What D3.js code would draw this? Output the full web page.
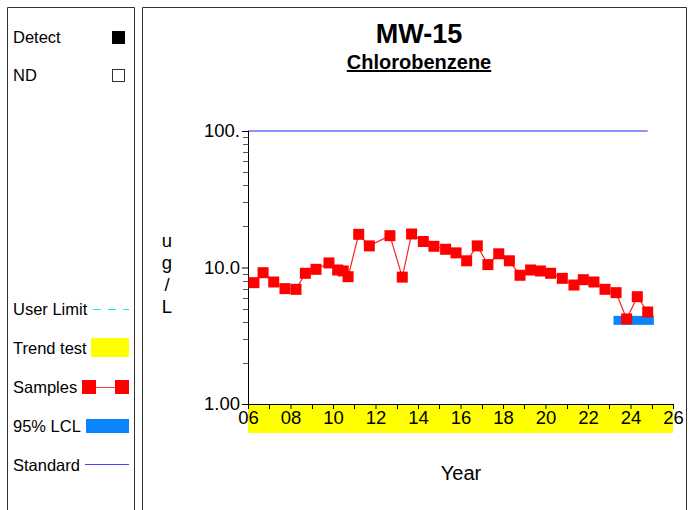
<!DOCTYPE html>
<html>
<head>
<meta charset="utf-8">
<script src="https://cdn.jsdelivr.net/npm/d3@7"></script>
<style>
  html, body { margin: 0; padding: 0; background: #fff; }
  svg { display: block; font-family: "Liberation Sans", Arial, sans-serif; }
</style>
</head>
<body>
<svg id="chart" width="691" height="510"></svg>
<script>
// Sample dates (decimal years) and Chlorobenzene results (ug/L) at MW-15
const sampleYears = [
  2006.28, 2006.71, 2007.21, 2007.74, 2008.26, 2008.70, 2009.20, 2009.81,
  2010.22, 2010.48, 2010.71, 2011.21, 2011.71, 2012.68, 2013.26, 2013.70,
  2014.25, 2014.75, 2015.30, 2015.79, 2016.29, 2016.79, 2017.29, 2017.80,
  2018.30, 2018.80, 2019.30, 2019.76, 2020.24, 2020.79, 2021.34, 2021.78,
  2022.28, 2022.80, 2023.32, 2023.82, 2024.32, 2024.81
];
const sampleValues = [
  7.74, 9.16, 7.83, 7.0, 6.92, 9.07, 9.7, 10.8,
  9.59, 9.43, 8.56, 17.5, 14.4, 17.1, 8.5, 17.6,
  15.5, 14.3, 13.6, 12.8, 11.2, 14.4, 10.5, 12.6,
  11.2, 8.77, 9.59, 9.43, 9.07, 8.33, 7.44, 8.14,
  7.83, 6.92, 6.54, 4.2, 6.11, 4.72
];
// Regulatory standard (ug/L), drawn across the sampling period
const standardValue = 100;
const standardRange = [2006, 2024.81];
// 95% lower confidence limit over the trend window
const lclValue = 4.1;
const lclRange = [2023.2, 2025.1];
// Trend test window (whole axis span)
const trendRange = [2006, 2026];
// Axis ticks
const xTickYears = [2006, 2008, 2010, 2012, 2014, 2016, 2018, 2020, 2022, 2024, 2026];
const yTickValues = [1, 10, 100];
const yTickLabels = ["1.00", "10.0", "100."];

const svg = d3.select("#chart");

// Panel frames
svg.append("path").attr("d", "M7.5,515 V7.5 H134.5 V515")
  .attr("fill", "none").attr("stroke", "#333").attr("stroke-width", 1);
svg.append("path").attr("d", "M142.5,515 V7.5 H686.5 V515")
  .attr("fill", "none").attr("stroke", "#333").attr("stroke-width", 1);

// Scales
const x = d3.scaleLinear().domain([2006, 2026]).range([248, 673]);
const y = d3.scaleLog().domain([1, 100]).range([404, 131]);

// Titles
svg.append("text").attr("x", 419).attr("y", 43).attr("text-anchor", "middle")
  .attr("font-size", 27).attr("font-weight", "bold").text("MW-15");
svg.append("text").attr("x", 419).attr("y", 69).attr("text-anchor", "middle")
  .attr("font-size", 20).attr("font-weight", "bold")
  .attr("text-decoration", "underline").text("Chlorobenzene");

// Trend test band below the axis
svg.append("rect")
  .attr("x", x(trendRange[0])).attr("y", 404)
  .attr("width", x(trendRange[1]) - x(trendRange[0])).attr("height", 29)
  .attr("fill", "#ffff00");

// Standard line
svg.append("line")
  .attr("x1", x(standardRange[0])).attr("x2", x(standardRange[1]))
  .attr("y1", y(standardValue)).attr("y2", y(standardValue))
  .attr("stroke", "#6b6bff").attr("stroke-width", 1.5);

// LCL bar
svg.append("rect")
  .attr("x", x(lclRange[0])).attr("y", y(lclValue) - 4.5)
  .attr("width", x(lclRange[1]) - x(lclRange[0])).attr("height", 9)
  .attr("fill", "#0a84ff");

// Y axis
const yAxis = d3.axisLeft(y)
  .tickValues(yTickValues)
  .tickFormat((d, i) => yTickLabels[i])
  .tickSize(6).tickPadding(2);
const gy = svg.append("g").attr("transform", "translate(248,0)").call(yAxis);
gy.select(".domain").attr("stroke", "#000").attr("d", "M0.5,131V404.5");
gy.selectAll(".tick line").attr("stroke", "#000");
gy.selectAll(".tick text").attr("font-size", 18.5).attr("fill", "#000")
  .attr("font-family", "Liberation Sans, Arial, sans-serif").attr("dy", "0.3em");

// Minor log ticks
const minorY = [];
[1, 10].forEach(dec => { for (let k = 2; k <= 9; k++) minorY.push(dec * k); });
svg.append("g").selectAll("line").data(minorY).join("line")
  .attr("x1", 243).attr("x2", 248.5)
  .attr("y1", d => Math.round(y(d)) + 0.5).attr("y2", d => Math.round(y(d)) + 0.5)
  .attr("stroke", "#555").attr("stroke-width", 1);

// X axis
const xAxis = d3.axisBottom(x)
  .tickValues(xTickYears)
  .tickFormat(d => String(d % 100).padStart(2, "0"))
  .tickSize(5).tickPadding(2);
const gx = svg.append("g").attr("transform", "translate(0,404)").call(xAxis);
gx.select(".domain").attr("stroke", "#000").attr("d", "M248,0.5H673");
gx.selectAll(".tick line").attr("stroke", "#000");
gx.selectAll(".tick text").attr("font-size", 18.5).attr("fill", "#000")
  .attr("font-family", "Liberation Sans, Arial, sans-serif");
const minorX = d3.range(2007, 2026, 2);
svg.append("g").selectAll("line").data(minorX).join("line")
  .attr("x1", d => Math.round(x(d)) + 0.5).attr("x2", d => Math.round(x(d)) + 0.5)
  .attr("y1", 404).attr("y2", 409)
  .attr("stroke", "#000");

// Axis labels
const unitLetters = ["u", "g", "/", "L"];
svg.append("g").selectAll("text").data(unitLetters).join("text")
  .attr("x", 167).attr("y", (d, i) => 247 + i * 22)
  .attr("text-anchor", "middle").attr("font-size", 18.5).text(d => d);
svg.append("text").attr("x", 461).attr("y", 480).attr("text-anchor", "middle")
  .attr("font-size", 20).text("Year");

// Samples
const samples = sampleYears.map((t, i) => ({ t, v: sampleValues[i] }));
svg.append("path").datum(samples)
  .attr("fill", "none").attr("stroke", "#ff2020").attr("stroke-width", 1.2)
  .attr("d", d3.line().x(d => x(d.t)).y(d => y(d.v)));
svg.append("g").selectAll("rect").data(samples).join("rect")
  .attr("x", d => x(d.t) - 5.5).attr("y", d => y(d.v) - 5.5)
  .attr("width", 11).attr("height", 11).attr("fill", "#ff0000");

// Legend
const lg = svg.append("g").attr("font-size", 16.5);
lg.append("text").attr("x", 13).attr("y", 43).text("Detect");
lg.append("rect").attr("x", 112).attr("y", 31).attr("width", 13).attr("height", 13).attr("fill", "#000");
lg.append("text").attr("x", 13).attr("y", 81).text("ND");
lg.append("rect").attr("x", 112.5).attr("y", 69.5).attr("width", 12).attr("height", 12)
  .attr("fill", "#fff").attr("stroke", "#333");
lg.append("text").attr("x", 13).attr("y", 315).text("User Limit");
lg.append("line").attr("x1", 93).attr("x2", 129).attr("y1", 309.5).attr("y2", 309.5)
  .attr("stroke", "#20e0f0").attr("stroke-width", 1.2).attr("stroke-dasharray", "8,7");
lg.append("text").attr("x", 13).attr("y", 354).text("Trend test");
lg.append("rect").attr("x", 91).attr("y", 338).attr("width", 38).attr("height", 19).attr("fill", "#ffff00");
lg.append("text").attr("x", 13).attr("y", 393).text("Samples");
lg.append("line").attr("x1", 89).attr("x2", 122).attr("y1", 387.5).attr("y2", 387.5)
  .attr("stroke", "#ff4040").attr("stroke-width", 1.2);
lg.append("rect").attr("x", 82).attr("y", 380).attr("width", 14).attr("height", 14).attr("fill", "#ff0000");
lg.append("rect").attr("x", 115).attr("y", 380).attr("width", 14).attr("height", 14).attr("fill", "#ff0000");
lg.append("text").attr("x", 13).attr("y", 432).text("95% LCL");
lg.append("rect").attr("x", 86).attr("y", 419).attr("width", 43).attr("height", 14).attr("fill", "#0a84ff");
lg.append("text").attr("x", 13).attr("y", 471).text("Standard");
lg.append("line").attr("x1", 85).attr("x2", 129).attr("y1", 464.5).attr("y2", 464.5)
  .attr("stroke", "#4444ff").attr("stroke-width", 1.2);
</script>
</body>
</html>
